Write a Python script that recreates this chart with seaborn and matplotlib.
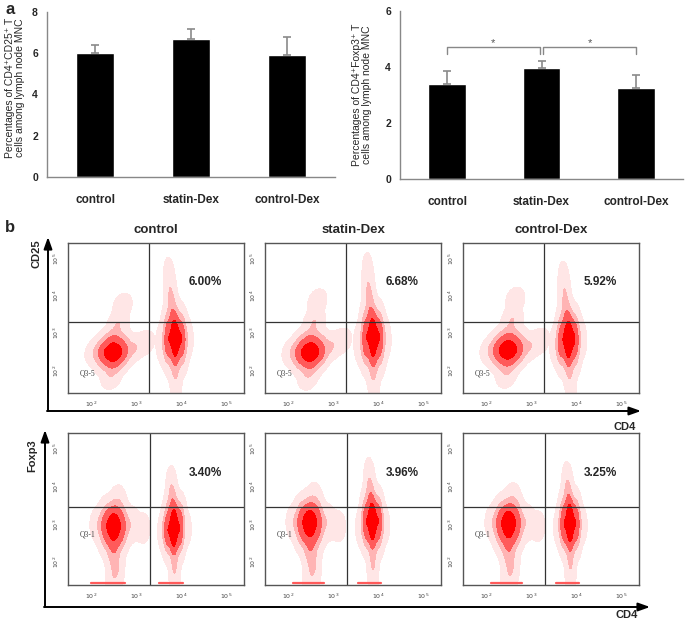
import matplotlib
matplotlib.use("Agg")
import matplotlib.pyplot as plt
from matplotlib.colors import ListedColormap
import numpy as np
import pandas as pd
import seaborn as sns

sns.set_style("white")
plt.rcParams["font.family"] = ["Liberation Sans", "DejaVu Sans"]

# ---- panel a data ----
groups = ["control", "statin-Dex", "control-Dex"]
cd25_pct = [6.00, 6.68, 5.92]
cd25_err = [0.40, 0.52, 0.88]
foxp3_pct = [3.40, 3.96, 3.25]
foxp3_err = [0.45, 0.24, 0.47]

# ---- panel b: cloud outlines (log10 CD4, log10 marker, weight) ----
# CD25 row, CD4- and CD4+ clouds
ctrl_cd25_neg = [(2.49, 2.50, 10), (2.28, 2.50, 6), (2.70, 2.50, 6), (2.49, 2.22, 6),
                 (2.49, 2.80, 6), (2.32, 2.30, 4), (2.66, 2.72, 4), (2.32, 2.72, 3),
                 (2.66, 2.30, 3), (2.60, 3.25, 2), (2.70, 3.75, 1), (2.95, 2.60, 2),
                 (3.20, 2.75, 1), (2.10, 2.50, 1.5), (2.45, 1.85, 1.5)]
ctrl_cd25_pos = [(3.86, 2.85, 10), (3.70, 2.85, 6), (4.02, 2.85, 6), (3.86, 2.45, 7),
                 (3.70, 2.50, 4), (4.00, 2.50, 4), (3.86, 3.25, 7), (3.72, 3.20, 4),
                 (4.00, 3.20, 4), (3.80, 3.65, 3), (3.76, 4.10, 2), (3.73, 4.55, 1),
                 (3.86, 2.00, 2), (3.88, 1.60, 1), (3.55, 2.70, 1), (4.15, 2.90, 1)]
statin_cd25_neg = [(2.49, 2.50, 10), (2.28, 2.50, 6), (2.70, 2.50, 6), (2.49, 2.22, 6),
                   (2.49, 2.80, 6), (2.32, 2.30, 4), (2.66, 2.72, 4), (2.32, 2.72, 3),
                   (2.66, 2.30, 3), (2.58, 3.30, 2), (2.65, 3.85, 1), (2.95, 2.65, 2),
                   (3.20, 2.80, 1), (2.10, 2.50, 1.5), (2.45, 1.85, 1.5)]
statin_cd25_pos = [(3.88, 2.88, 10), (3.72, 2.88, 6), (4.04, 2.88, 6), (3.88, 2.45, 7),
                   (3.72, 2.50, 4), (4.02, 2.50, 4), (3.88, 3.28, 7), (3.74, 3.24, 4),
                   (4.02, 3.24, 4), (3.82, 3.75, 3), (3.78, 4.20, 2), (3.77, 4.65, 1),
                   (3.88, 2.00, 2), (3.90, 1.60, 1), (3.57, 2.70, 1), (4.17, 2.90, 1)]
dex_cd25_neg = [(2.49, 2.56, 10), (2.28, 2.56, 6), (2.70, 2.56, 6), (2.49, 2.28, 6),
                (2.49, 2.86, 6), (2.32, 2.36, 4), (2.66, 2.78, 4), (2.32, 2.78, 3),
                (2.66, 2.36, 3), (2.58, 3.35, 2), (2.65, 3.90, 1), (2.95, 2.65, 2),
                (3.20, 2.80, 1), (2.10, 2.55, 1.5), (2.45, 1.90, 1.5)]
dex_cd25_pos = [(3.82, 2.82, 10), (3.66, 2.82, 6), (3.98, 2.82, 6), (3.82, 2.42, 7),
                (3.66, 2.47, 4), (3.96, 2.47, 4), (3.84, 3.22, 7), (3.70, 3.18, 4),
                (3.97, 3.18, 4), (3.78, 3.60, 3), (3.74, 4.05, 2), (3.72, 4.45, 1),
                (3.84, 2.00, 2), (3.88, 1.60, 1), (3.52, 2.65, 1), (4.12, 2.85, 1)]
# Foxp3 row, CD4- and CD4+ clouds
ctrl_foxp3_neg = [(2.50, 2.95, 10), (2.32, 2.95, 6), (2.68, 2.95, 6), (2.50, 2.65, 7),
                  (2.35, 2.65, 4), (2.65, 2.65, 4), (2.50, 3.25, 7), (2.35, 3.22, 4),
                  (2.65, 3.22, 4), (2.50, 2.25, 4), (2.55, 1.85, 2.5), (2.50, 1.50, 1.5),
                  (2.90, 3.00, 2), (3.15, 2.90, 1), (2.60, 3.60, 1.5), (2.15, 3.00, 1.5)]
ctrl_foxp3_pos = [(3.83, 2.90, 10), (3.68, 2.90, 6), (3.98, 2.90, 6), (3.83, 2.50, 7),
                  (3.70, 2.55, 4), (3.96, 2.55, 4), (3.85, 3.30, 7), (3.72, 3.28, 4),
                  (3.98, 3.28, 4), (3.80, 3.70, 3), (3.78, 4.05, 1.5), (3.85, 2.00, 2.5),
                  (3.85, 1.60, 1.5), (3.58, 2.80, 1), (4.12, 2.90, 1)]
statin_foxp3_neg = [(2.48, 3.04, 10), (2.30, 3.04, 6), (2.66, 3.04, 6), (2.48, 2.72, 7),
                    (2.33, 2.72, 4), (2.63, 2.72, 4), (2.48, 3.32, 7), (2.33, 3.30, 4),
                    (2.63, 3.30, 4), (2.50, 2.30, 4), (2.55, 1.90, 2.5), (2.50, 1.50, 1.5),
                    (2.88, 3.05, 2), (3.12, 2.95, 1), (2.58, 3.65, 1.5), (2.13, 3.05, 1.5)]
statin_foxp3_pos = [(3.87, 3.07, 10), (3.72, 3.07, 6), (4.02, 3.07, 6), (3.87, 2.65, 7),
                    (3.74, 2.70, 4), (4.00, 2.70, 4), (3.87, 3.45, 7), (3.74, 3.42, 4),
                    (4.00, 3.42, 4), (3.82, 3.85, 3), (3.80, 4.25, 1.5), (3.88, 2.10, 2.5),
                    (3.88, 1.65, 1.5), (3.60, 2.90, 1), (4.15, 3.00, 1)]
dex_foxp3_neg = [(2.50, 3.02, 10), (2.32, 3.02, 6), (2.68, 3.02, 6), (2.50, 2.70, 7),
                 (2.35, 2.70, 4), (2.65, 2.70, 4), (2.50, 3.30, 7), (2.35, 3.28, 4),
                 (2.65, 3.28, 4), (2.50, 2.30, 4), (2.55, 1.90, 2.5), (2.50, 1.50, 1.5),
                 (2.90, 3.05, 2), (3.15, 2.95, 1), (2.60, 3.65, 1.5), (2.15, 3.05, 1.5)]
dex_foxp3_pos = [(3.86, 3.02, 10), (3.71, 3.02, 6), (4.01, 3.02, 6), (3.86, 2.60, 7),
                 (3.73, 2.65, 4), (3.99, 2.65, 4), (3.86, 3.40, 7), (3.73, 3.38, 4),
                 (3.99, 3.38, 4), (3.82, 3.80, 3), (3.80, 4.15, 1.5), (3.87, 2.10, 2.5),
                 (3.87, 1.65, 1.5), (3.60, 2.90, 1), (4.14, 3.00, 1)]
# events piled on the bottom edge of the Foxp3 plots (x ranges, log10)
foxp3_pileup = [
    [(2.00, 2.75), (3.50, 4.03)],
    [(2.10, 2.80), (3.55, 4.05)],
    [(2.10, 2.80), (3.55, 4.05)],
]
cd25_gates = (3.28, 3.29)
foxp3_gates = (3.31, 3.45)

W, H = 685, 623
fig = plt.figure(figsize=(W / 100, H / 100), dpi=100)


def px_axes(left, top, right, bottom):
    return fig.add_axes([left / W, 1 - bottom / H, (right - left) / W, (bottom - top) / H])


def bar_panel(ax, vals, errs, ymax):
    xs = np.arange(len(groups))
    sns.barplot(x=groups, y=vals, color="black", width=0.4, ax=ax, saturation=1)
    ax.errorbar(xs, vals, yerr=[np.zeros(len(errs)), errs], fmt="none",
                ecolor="#8a8a8a", elinewidth=1.2, capsize=3, capthick=1.2)
    ax.set_xlim(-0.5, 2.5)
    ax.set_ylim(0, ymax)
    ax.set_yticks(np.arange(0, ymax + 1, 2))
    ax.set_xticks(xs)
    ax.set_xticklabels(groups, fontsize=8.5, fontweight="bold")
    ax.set_xticks([-0.5, 0.5, 1.5, 2.5], minor=True)
    ax.tick_params(axis="x", which="major", length=0, pad=12)
    ax.tick_params(axis="x", which="minor", length=3, color="#888", direction="out")
    ax.tick_params(axis="y", length=3, color="#888", direction="out", labelsize=7.5)
    for t in ax.get_yticklabels():
        t.set_fontweight("bold")
    for s in ["top", "right"]:
        ax.spines[s].set_visible(False)
    for s in ["left", "bottom"]:
        ax.spines[s].set_color("#888")
        ax.spines[s].set_linewidth(1)


ax1 = px_axes(47, 12, 335, 177)
bar_panel(ax1, cd25_pct, cd25_err, 8)
ax2 = px_axes(400, 11, 683, 179)
bar_panel(ax2, foxp3_pct, foxp3_err, 6)
# significance brackets
for a, b in [(0, 0.98), (1.02, 2)]:
    ax2.plot([a, a, b, b], [4.45, 4.7, 4.7, 4.45], color="#888", lw=1)
    ax2.text((a + b) / 2, 4.85, "*", ha="center", va="center", fontsize=8, color="#555")

cloud_cmap = ListedColormap(["#ffe6e6", "#ffb4b4", "#ff5a5a", "#ff1010", "#ff0000"])
XL, YL = (1.49, 5.39), (1.40, 5.42)


def flow_panel(ax, clouds, pct, gates, qlabel, qy, pileup=None):
    for pts in clouds:
        df = pd.DataFrame(pts, columns=["cx", "cy", "w"])
        sns.kdeplot(x=df["cx"], y=df["cy"], weights=df["w"], fill=True, ax=ax,
                    levels=[0.008, 0.05, 0.15, 0.35, 0.7, 1], cmap=cloud_cmap,
                    bw_adjust=0.8, gridsize=150, clip=(XL, YL))
    if pileup:
        for x0, x1 in pileup:
            ax.plot([x0, x1], [YL[0] + 0.04, YL[0] + 0.04], color="#ff5a5a", lw=1.6)
    ax.axvline(gates[0], color="#333", lw=0.9)
    ax.axhline(gates[1], color="#333", lw=0.9)
    ax.set_xlim(*XL)
    ax.set_ylim(*YL)
    ax.set_xlabel("")
    ax.set_ylabel("")
    dec = [2, 3, 4, 5]
    minor = [np.log10(k * 10.0 ** d) for d in [1, 2, 3, 4, 5] for k in range(2, 10)]
    ax.set_xticks(dec)
    ax.set_xticklabels([f"$10^{d}$" for d in dec], fontsize=4.5, color="#444")
    ax.set_yticks(dec)
    ax.set_yticklabels([f"$10^{d}$" for d in dec], fontsize=4.5, color="#444", rotation=90, va="center")
    ax.set_xticks([m for m in minor if XL[0] < m < XL[1]], minor=True)
    ax.set_yticks([m for m in minor if YL[0] < m < YL[1]], minor=True)
    ax.tick_params(which="major", length=3.5, width=0.6, color="#555", direction="out", pad=1.5)
    ax.tick_params(which="minor", length=1.8, width=0.5, color="#555", direction="out")
    for s in ax.spines.values():
        s.set_color("#555")
        s.set_linewidth(1)
        s.set_visible(True)
    ax.text(0.78, 0.74, f"{pct:.2f}%", transform=ax.transAxes, ha="center", va="center",
            fontsize=8.5, fontweight="bold")
    ax.text(0.11, qy, qlabel, transform=ax.transAxes, ha="center", va="center",
            fontsize=5.5, color="#444", family="Liberation Serif")


cols = [(68, 244), (265, 441), (463, 639)]
cd25_clouds = [(ctrl_cd25_neg, ctrl_cd25_pos), (statin_cd25_neg, statin_cd25_pos),
               (dex_cd25_neg, dex_cd25_pos)]
foxp3_clouds = [(ctrl_foxp3_neg, ctrl_foxp3_pos), (statin_foxp3_neg, statin_foxp3_pos),
                (dex_foxp3_neg, dex_foxp3_pos)]
for i, (l, r) in enumerate(cols):
    axa = px_axes(l, 243, r, 393)
    flow_panel(axa, cd25_clouds[i], cd25_pct[i], cd25_gates, "Q3-5", 0.13)
    axb = px_axes(l, 433, r, 585)
    flow_panel(axb, foxp3_clouds[i], foxp3_pct[i], foxp3_gates, "Q3-1", 0.33, foxp3_pileup[i])
    fig.text((l + r) / 2 / W, 1 - 230 / H, groups[i], ha="center", va="center",
             fontsize=9.5, fontweight="bold")

# overlay in pixel coordinates for labels and big arrows
ov = fig.add_axes([0, 0, 1, 1])
ov.set_xlim(0, W)
ov.set_ylim(H, 0)
ov.axis("off")
ov.text(10, 10, "a", fontsize=12, fontweight="bold", ha="center", va="center")
ov.text(10, 228, "b", fontsize=12, fontweight="bold", ha="center", va="center")
ov.text(15, 88, "Percentages of CD4\u207aCD25\u207a T\ncells among lymph node MNC",
        rotation=90, ha="center", va="center", fontsize=7.5, linespacing=1.1)
ov.text(362, 95, "Percentages of CD4\u207aFoxp3\u207a T\ncells among lymph node MNC",
        rotation=90, ha="center", va="center", fontsize=7.5, linespacing=1.1)
arrow = dict(arrowstyle="-|>,head_length=0.7,head_width=0.25", color="black", lw=1.4, shrinkA=0, shrinkB=0)
ov.annotate("", xy=(48, 237), xytext=(48, 411), arrowprops=arrow)
ov.annotate("", xy=(641, 411), xytext=(47, 411), arrowprops=arrow)
ov.annotate("", xy=(45, 430), xytext=(45, 607), arrowprops=arrow)
ov.annotate("", xy=(650, 607), xytext=(44, 607), arrowprops=arrow)
ov.text(37, 254, "CD25", rotation=90, ha="center", va="center", fontsize=8, fontweight="bold")
ov.text(32, 456, "Foxp3", rotation=90, ha="center", va="center", fontsize=8, fontweight="bold")
ov.text(625, 427, "CD4", ha="center", va="center", fontsize=8, fontweight="bold")
ov.text(627, 615, "CD4", ha="center", va="center", fontsize=8, fontweight="bold")

fig.savefig("out.png", dpi=100)
